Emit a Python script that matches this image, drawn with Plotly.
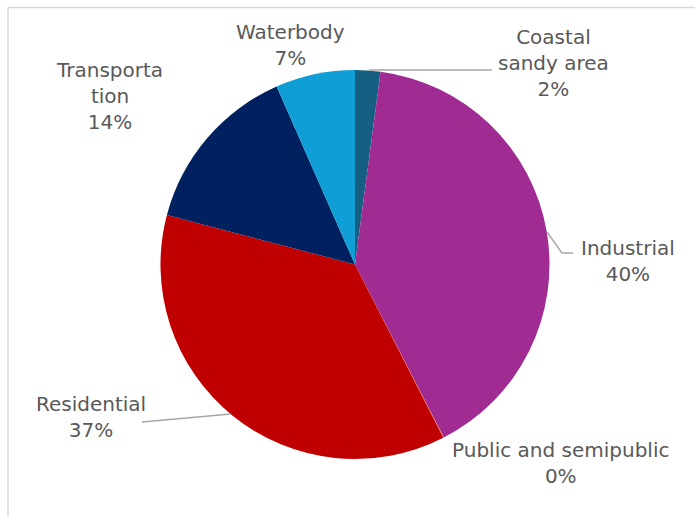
import plotly.graph_objects as go

# ---- data ----
categories = ["Coastal sandy area", "Industrial", "Public and semipublic",
              "Residential", "Transportation", "Waterbody"]
shares = [2.1, 40.35, 0.05, 36.6, 14.3, 6.6]
# display names (Excel wrapped "Transportation" inside the label box)
display_names = ["Coastal<br>sandy area", "Industrial", "Public and semipublic",
                 "Residential", "Transporta<br>tion", "Waterbody"]

# ---- styles ----
colors = ["#156082", "#A02B93", "#E97132", "#C00000", "#002060", "#0F9ED5"]
W, H = 695, 517
# label centres in pixels
label_pos = [(553, 63), (628, 261), (560, 463), (91, 417), (110, 96), (290, 45)]
FONT = "DejaVu Sans"
TXT = "#595959"

total = sum(shares)
pcts = [int(v / total * 100 + 0.5) for v in shares]

fig = go.Figure(go.Pie(
    labels=categories,
    values=shares,
    sort=False,
    direction="clockwise",
    rotation=0,
    marker=dict(colors=colors, line=dict(width=0)),
    textinfo="none",
    hoverinfo="label+percent",
    domain=dict(x=[160 / W, 550 / W], y=[1 - 459 / H, 1 - 70 / H]),
    showlegend=False,
))

def px(x):
    return x / W

def py(y):
    return 1 - y / H

annotations = []
for name, p, (x, y) in zip(display_names, pcts, label_pos):
    annotations.append(dict(
        x=px(x), y=py(y), xref="paper", yref="paper",
        text=f"{name}<br>{p}%", showarrow=False,
        xanchor="center", yanchor="middle",
        font=dict(family=FONT, size=20, color=TXT),
    ))

LEADER = dict(color="#A6A6A6", width=1.3)
shapes = [
    # chart border (top and left visible)
    dict(type="line", xref="paper", yref="paper", x0=px(8), y0=py(7.5), x1=1.02, y1=py(7.5),
         line=dict(color="#D9D9D9", width=1.5)),
    dict(type="line", xref="paper", yref="paper", x0=px(8), y0=py(7.5), x1=px(8), y1=-0.02,
         line=dict(color="#D9D9D9", width=1.5)),
    # leader lines
    dict(type="path", xref="paper", yref="paper",
         path=f"M {px(369)} {py(70)} L {px(492)} {py(70)}", line=LEADER),
    dict(type="path", xref="paper", yref="paper",
         path=f"M {px(547)} {py(232)} L {px(562)} {py(253)} L {px(573)} {py(253)}", line=LEADER),
    dict(type="path", xref="paper", yref="paper",
         path=f"M {px(142)} {py(422)} L {px(231)} {py(414)}", line=LEADER),
]

fig.update_layout(
    width=W, height=H,
    margin=dict(l=0, r=0, t=0, b=0),
    paper_bgcolor="white", plot_bgcolor="white",
    annotations=annotations, shapes=shapes,
)

fig.write_html("out.html", config={"displayModeBar": False},
               post_script="document.body.style.margin='0';document.body.style.padding='0';")
